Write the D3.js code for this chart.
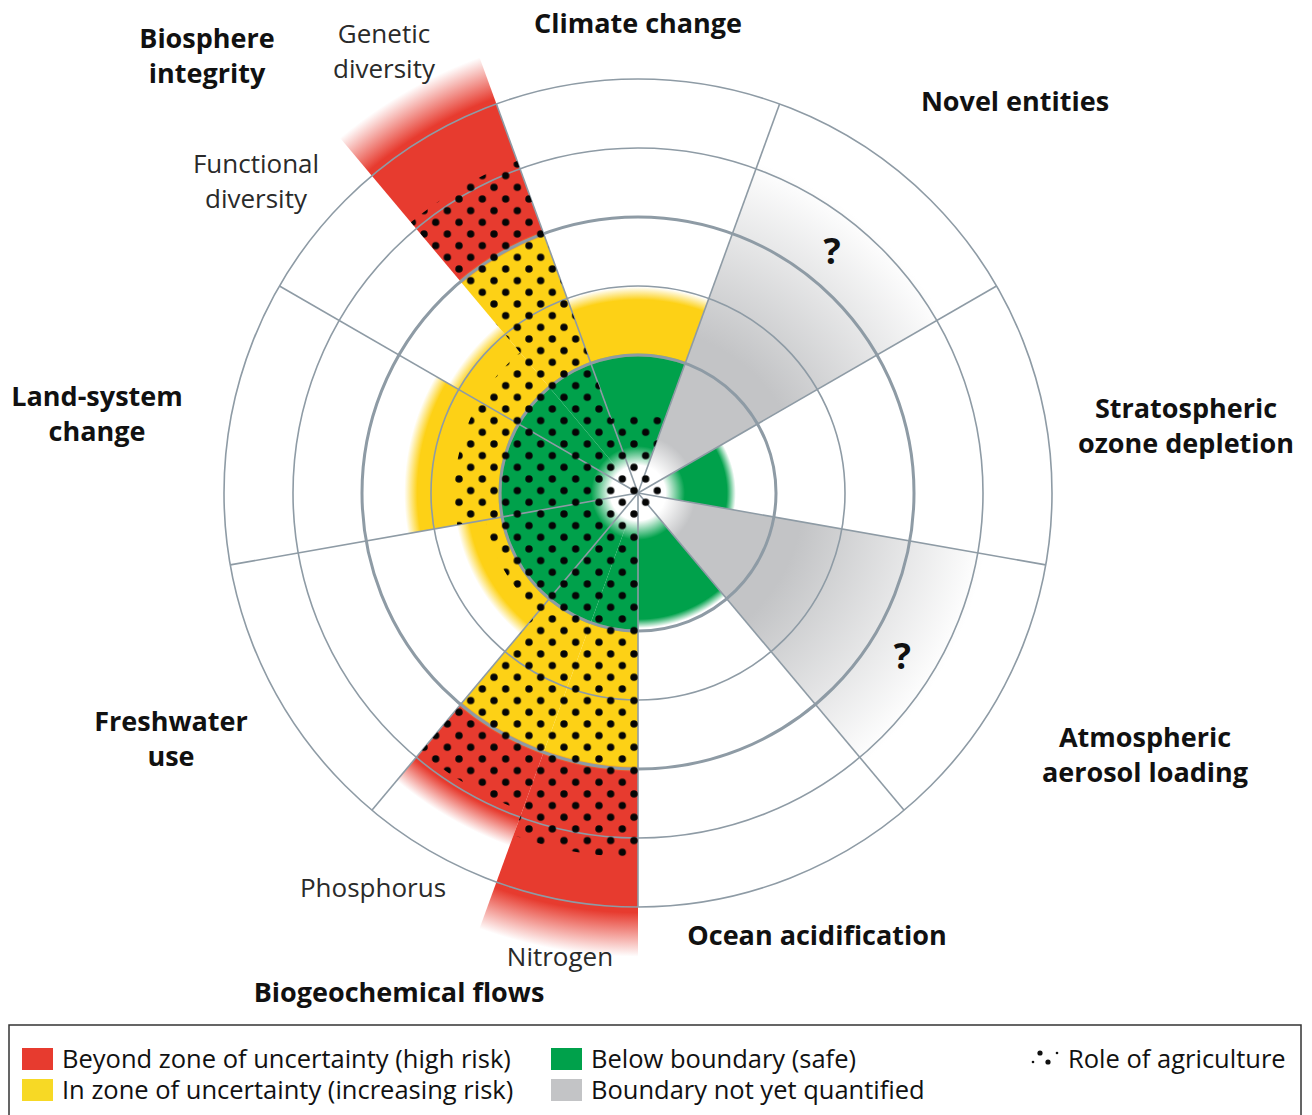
<!DOCTYPE html>
<html>
<head>
<meta charset="utf-8">
<script src="https://cdn.jsdelivr.net/npm/d3@7"></script>
<style>
  body { margin: 0; background: #fff; }
  svg { display: block; font-family: "Open Sans", sans-serif; }
</style>
</head>
<body>
<svg id="chart" width="1312" height="1115"></svg>
<script>
// segments of the wheel (angles in degrees, clockwise from 12 o'clock)
const segNames = ["Climate change", "Novel entities", "Stratospheric ozone depletion",
  "Atmospheric aerosol loading", "Ocean acidification", "Nitrogen", "Phosphorus",
  "Freshwater use", "Land-system change", "Functional diversity", "Genetic diversity"];
const segStart = [-20, 20, 60, 100, 140, 180, 200, 220, 260, 300, 320];
const segEnd = [20, 60, 100, 140, 180, 200, 220, 260, 300, 320, 340];
// extent of the control variable, in units of the planetary boundary
const segValue = [1.45, 2.55, 0.68, 2.55, 0.95, 3.2, 2.62, 1.29, 1.65, 1.54, 3.2];
const segQuantified = [true, false, true, false, true, true, true, true, true, true, true];
// extent of the "role of agriculture" dotted area, same units
const agriExtent = [0.57, 0.17, 0.17, 0.17, 0.17, 2.64, 2.45, 1.12, 1.33, 1.33, 2.56];

const ringLevels = [1, 1.5, 2, 2.5, 3];
const ringMajor = [true, false, true, false, false];
const spokeAngles = [20, 60, 100, 140, 180, 220, 260, 300, 340];

const legendItems = ["Beyond zone of uncertainty (high risk)", "In zone of uncertainty (increasing risk)",
  "Below boundary (safe)", "Boundary not yet quantified"];

const colors = { red: "#e73b2f", yellow: "#fdd116", green: "#00a14b", gray: "#c3c4c6", grid: "#8e9ba5" };

const cx = 638, cy = 493;
const svg = d3.select("#chart");
const defs = svg.append("defs");
const r = d3.scaleLinear().domain([0, 3]).range([0, 414]);
const deg = d => d * Math.PI / 180;
const Rmax = r(3.45);

const g = svg.append("g").attr("transform", `translate(${cx},${cy})`);

// gradient stops for one segment
function segStops(i) {
  const v = segValue[i];
  const o = px => Math.max(0, Math.min(1, px / Rmax));
  if (!segQuantified[i]) {
    return [[0, colors.gray, 0], [o(r(0.2)), colors.gray, 0], [o(r(0.42)), colors.gray, 1],
      [o(r(1.2)), colors.gray, 1], [o(r(v)), colors.gray, 0], [1, colors.gray, 0]];
  }
  const s = [[0, colors.green, 0], [o(r(0.2)), colors.green, 0], [o(r(0.34)), colors.green, 1]];
  if (v <= 1) {
    s.push([o(r(v) - 5), colors.green, 1], [o(r(v) + 4), colors.green, 0]);
  } else {
    s.push([o(r(1) - 2), colors.green, 1], [o(r(1) + 2), colors.yellow, 1]);
    if (v <= 2) {
      s.push([o(r(v) - 7), colors.yellow, 1], [o(r(v) + 6), colors.yellow, 0]);
    } else {
      const fz = v > 3 ? 22 : 14;
      s.push([o(r(2) - 3), colors.yellow, 1], [o(r(2) + 3), colors.red, 1],
        [o(r(v) - fz), colors.red, 1], [o(r(v) + fz), colors.red, 0]);
    }
  }
  s.push([1, "#fff", 0]);
  return s;
}

segNames.forEach((name, i) => {
  const grad = defs.append("radialGradient")
    .attr("id", `seg-${i}`)
    .attr("gradientUnits", "userSpaceOnUse")
    .attr("cx", 0).attr("cy", 0).attr("r", Rmax);
  grad.selectAll("stop").data(segStops(i)).join("stop")
    .attr("offset", d => d[0])
    .attr("stop-color", d => d[1])
    .attr("stop-opacity", d => d[2]);
});

const arc = d3.arc();
g.append("g").selectAll("path")
  .data(segNames)
  .join("path")
  .attr("d", (d, i) => arc({ innerRadius: 0, outerRadius: Rmax, startAngle: deg(segStart[i]), endAngle: deg(segEnd[i]) }))
  .attr("fill", (d, i) => `url(#seg-${i})`);

// grid
g.append("g").selectAll("circle")
  .data(ringLevels)
  .join("circle")
  .attr("r", d => r(d))
  .attr("fill", "none")
  .attr("stroke", colors.grid)
  .attr("stroke-width", (d, i) => ringMajor[i] ? 3 : 1.6);

g.append("g").selectAll("line")
  .data(spokeAngles)
  .join("line")
  .attr("x1", 0).attr("y1", 0)
  .attr("x2", d => r(3) * Math.sin(deg(d)))
  .attr("y2", d => -r(3) * Math.cos(deg(d)))
  .attr("stroke", colors.grid)
  .attr("stroke-width", 1.6);

// role of agriculture: dot pattern clipped to the agriculture extent
const pat = defs.append("pattern")
  .attr("id", "dots")
  .attr("patternUnits", "userSpaceOnUse")
  .attr("x", -109).attr("y", -130.7)
  .attr("width", 23.33).attr("height", 23.33);
pat.selectAll("circle")
  .data([[0, 0], [23.33, 0], [0, 23.33], [23.33, 23.33], [11.67, 11.67]])
  .join("circle")
  .attr("cx", d => d[0]).attr("cy", d => d[1]).attr("r", 3.7)
  .attr("fill", "#050505");

const clip = defs.append("clipPath").attr("id", "agri-clip");
clip.selectAll("path")
  .data(agriExtent)
  .join("path")
  .attr("d", (d, i) => arc({ innerRadius: 0, outerRadius: r(d), startAngle: deg(segStart[i]), endAngle: deg(segEnd[i]) }));

g.append("rect")
  .attr("x", -Rmax).attr("y", -Rmax)
  .attr("width", 2 * Rmax).attr("height", 2 * Rmax)
  .attr("fill", "url(#dots)")
  .attr("clip-path", "url(#agri-clip)");

// question marks on the unquantified boundaries (small angular nudge each)
const unq = segNames.map((d, i) => i).filter(i => !segQuantified[i]);
const qNudge = [-1.3, 1.6];
g.append("g").selectAll("text")
  .data(unq)
  .join("text")
  .attr("x", (i, k) => r(2.25) * Math.sin(deg((segStart[i] + segEnd[i]) / 2 + qNudge[k])))
  .attr("y", (i, k) => -r(2.25) * Math.cos(deg((segStart[i] + segEnd[i]) / 2 + qNudge[k])) + 13)
  .attr("text-anchor", "middle")
  .attr("font-size", 36).attr("font-weight", 700).attr("fill", "#111")
  .text("?");

// labels
const labels = [
  { lines: ["Climate change"], x: 638, y: 33, bold: true },
  { lines: ["Novel entities"], x: 1015, y: 111, bold: true },
  { lines: ["Stratospheric", "ozone depletion"], x: 1186, y: 418, bold: true },
  { lines: ["Atmospheric", "aerosol loading"], x: 1145, y: 747, bold: true },
  { lines: ["Ocean acidification"], x: 817, y: 945, bold: true },
  { lines: ["Biogeochemical flows"], x: 399, y: 1002, bold: true },
  { lines: ["Freshwater", "use"], x: 171, y: 731, bold: true },
  { lines: ["Land-system", "change"], x: 97, y: 406, bold: true },
  { lines: ["Biosphere", "integrity"], x: 207, y: 48, bold: true },
  { lines: ["Genetic", "diversity"], x: 384, y: 43, bold: false },
  { lines: ["Functional", "diversity"], x: 256, y: 173, bold: false },
  { lines: ["Phosphorus"], x: 373, y: 897, bold: false },
  { lines: ["Nitrogen"], x: 560, y: 966, bold: false }
];

const lab = svg.append("g").selectAll("text")
  .data(labels)
  .join("text")
  .attr("text-anchor", "middle")
  .attr("font-size", d => d.bold ? 27 : 26)
  .attr("font-weight", d => d.bold ? 700 : 400)
  .attr("fill", d => d.bold ? "#111" : "#2a2a2a");
lab.selectAll("tspan")
  .data(d => d.lines.map((t, k) => ({ t, x: d.x, y: d.y + k * 35 })))
  .join("tspan")
  .attr("x", d => d.x).attr("y", d => d.y)
  .text(d => d.t);

// legend
const leg = svg.append("g");
leg.append("rect")
  .attr("x", 9).attr("y", 1025).attr("width", 1292).attr("height", 110)
  .attr("fill", "none").attr("stroke", "#333").attr("stroke-width", 1.5);

const legendColors = [colors.red, "#f7d925", colors.green, colors.gray];
const legendPos = [[22, 1048], [22, 1079], [551, 1048], [551, 1079]];
const li = leg.selectAll("g.item")
  .data(legendItems)
  .join("g").attr("class", "item")
  .attr("transform", (d, i) => `translate(${legendPos[i][0]},${legendPos[i][1]})`);
li.append("rect").attr("width", 31).attr("height", 22).attr("fill", (d, i) => legendColors[i]);
li.append("text").attr("x", 40).attr("y", 20)
  .attr("font-size", 25.5).attr("fill", "#111")
  .text(d => d);

const ag = leg.append("g").attr("transform", "translate(1030,1048)");
ag.selectAll("circle")
  .data([[3, 14, 1.3], [10, 5, 2.6], [18, 14, 2.6], [27, 5, 1.3]])
  .join("circle")
  .attr("cx", d => d[0]).attr("cy", d => d[1]).attr("r", d => d[2])
  .attr("fill", "#111");
ag.append("text").attr("x", 38).attr("y", 20)
  .attr("font-size", 25.5).attr("fill", "#111")
  .text("Role of agriculture");
</script>
</body>
</html>
